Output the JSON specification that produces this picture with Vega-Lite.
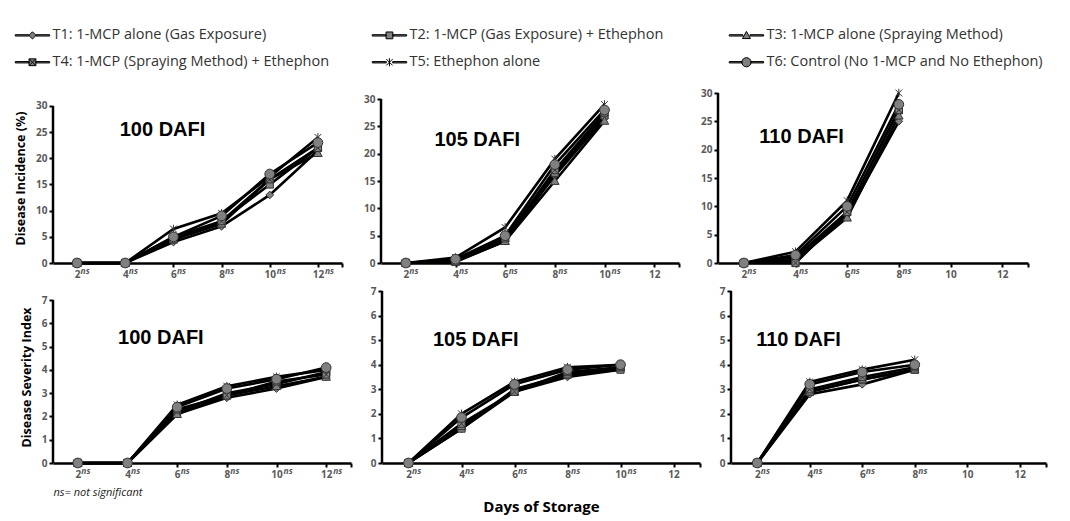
{
  "$schema": "https://vega.github.io/schema/vega-lite/v6.json",
  "padding": {"left": 14, "top": 28, "right": 5, "bottom": 5},
  "background": "white",
  "datasets": {
    "d": [
      {"m": "DI", "p": 100, "d": 2, "T1": 0, "T2": 0, "T3": 0, "T4": 0, "T5": 0, "T6": 0},
      {"m": "DI", "p": 100, "d": 4, "T1": 0, "T2": 0, "T3": 0, "T4": 0, "T5": 0, "T6": 0},
      {"m": "DI", "p": 100, "d": 6, "T1": 4, "T2": 4.5, "T3": 4.5, "T4": 5, "T5": 6.5, "T6": 5},
      {"m": "DI", "p": 100, "d": 8, "T1": 7, "T2": 8, "T3": 7.5, "T4": 8, "T5": 9.5, "T6": 9},
      {"m": "DI", "p": 100, "d": 10, "T1": 13, "T2": 15, "T3": 16, "T4": 16, "T5": 16.5, "T6": 17},
      {"m": "DI", "p": 100, "d": 12, "T1": 21.5, "T2": 22, "T3": 21, "T4": 22, "T5": 24, "T6": 23},
      {"m": "DI", "p": 105, "d": 2, "T1": 0, "T2": 0, "T3": 0, "T4": 0, "T5": 0, "T6": 0},
      {"m": "DI", "p": 105, "d": 4, "T1": 0.3, "T2": 0.5, "T3": 0.2, "T4": 0.3, "T5": 1, "T6": 0.7},
      {"m": "DI", "p": 105, "d": 6, "T1": 4, "T2": 4.5, "T3": 4, "T4": 4.5, "T5": 6.5, "T6": 5},
      {"m": "DI", "p": 105, "d": 8, "T1": 16, "T2": 16.5, "T3": 15, "T4": 17, "T5": 19, "T6": 18},
      {"m": "DI", "p": 105, "d": 10, "T1": 26.5, "T2": 27, "T3": 26, "T4": 27.5, "T5": 29, "T6": 28},
      {"m": "DI", "p": 110, "d": 2, "T1": 0, "T2": 0, "T3": 0, "T4": 0, "T5": 0, "T6": 0},
      {"m": "DI", "p": 110, "d": 4, "T1": 0.5, "T2": 1, "T3": 0.5, "T4": 0, "T5": 2, "T6": 1.4},
      {"m": "DI", "p": 110, "d": 6, "T1": 8.5, "T2": 9, "T3": 8, "T4": 9, "T5": 11, "T6": 10},
      {"m": "DI", "p": 110, "d": 8, "T1": 25, "T2": 27, "T3": 26, "T4": 27, "T5": 30, "T6": 28},
      {"m": "DSI", "p": 100, "d": 2, "T1": 0, "T2": 0, "T3": 0, "T4": 0, "T5": 0, "T6": 0},
      {"m": "DSI", "p": 100, "d": 4, "T1": 0, "T2": 0, "T3": 0, "T4": 0, "T5": 0, "T6": 0},
      {"m": "DSI", "p": 100, "d": 6, "T1": 2.1, "T2": 2.2, "T3": 2.1, "T4": 2.3, "T5": 2.5, "T6": 2.4},
      {"m": "DSI", "p": 100, "d": 8, "T1": 2.8, "T2": 3.0, "T3": 2.9, "T4": 2.9, "T5": 3.3, "T6": 3.2},
      {"m": "DSI", "p": 100, "d": 10, "T1": 3.2, "T2": 3.4, "T3": 3.3, "T4": 3.5, "T5": 3.7, "T6": 3.6},
      {"m": "DSI", "p": 100, "d": 12, "T1": 3.7, "T2": 3.9, "T3": 3.7, "T4": 3.8, "T5": 4.0, "T6": 4.1},
      {"m": "DSI", "p": 105, "d": 2, "T1": 0, "T2": 0, "T3": 0, "T4": 0, "T5": 0, "T6": 0},
      {"m": "DSI", "p": 105, "d": 4, "T1": 1.4, "T2": 1.4, "T3": 1.5, "T4": 1.6, "T5": 2.0, "T6": 1.85},
      {"m": "DSI", "p": 105, "d": 6, "T1": 2.9, "T2": 3.0, "T3": 2.9, "T4": 2.9, "T5": 3.3, "T6": 3.2},
      {"m": "DSI", "p": 105, "d": 8, "T1": 3.5, "T2": 3.6, "T3": 3.6, "T4": 3.7, "T5": 3.9, "T6": 3.8},
      {"m": "DSI", "p": 105, "d": 10, "T1": 3.8, "T2": 3.8, "T3": 3.9, "T4": 3.9, "T5": 4.0, "T6": 4.0},
      {"m": "DSI", "p": 110, "d": 2, "T1": 0, "T2": 0, "T3": 0, "T4": 0, "T5": 0, "T6": 0},
      {"m": "DSI", "p": 110, "d": 4, "T1": 2.8, "T2": 2.9, "T3": 2.9, "T4": 3.0, "T5": 3.3, "T6": 3.2},
      {"m": "DSI", "p": 110, "d": 6, "T1": 3.2, "T2": 3.4, "T3": 3.4, "T4": 3.5, "T5": 3.8, "T6": 3.7},
      {"m": "DSI", "p": 110, "d": 8, "T1": 3.8, "T2": 3.8, "T3": 3.8, "T4": 3.9, "T5": 4.2, "T6": 4.0}
    ]
  },
  "config": {
    "view": {"stroke": null},
    "font": "Open Sans",
    "axis": {
      "domainColor": "black", "domainWidth": 2.5, "tickColor": "black", "tickWidth": 2, "tickSize": 4,
      "labelColor": "#595959", "labelFont": "Open Sans", "labelFontSize": 10, "labelFontWeight": "bold",
      "grid": false, "labelPadding": 2, "titleColor": "black", "titleFont": "Open Sans", "titleFontWeight": "bold", "titleFontSize": 12.5
    },
    "axisY": {"domain": false},
    "point": {"filled": true, "fill": "#808080", "stroke": "#333333", "strokeWidth": 1, "opacity": 1, "size": 72},
    "line": {"color": "black", "strokeWidth": 2.6},
    "rule": {"color": "black", "strokeWidth": 2.5},
    "text": {"color": "#595959"},
    "legend": {
      "orient": "none", "legendX": -27.8, "legendY": -65, "columns": 3, "direction": "vertical", "gridAlign": "all",
      "columnPadding": 41, "rowPadding": 12, "symbolSize": 64, "labelFont": "Open Sans", "labelFontSize": 14.5,
      "labelColor": "#333333", "labelOffset": 12.8, "labelLimit": 500, "padding": 0, "title": null
    }
  },
  "spacing": 7,
  "vconcat": [
    {
      "spacing": 20,
      "hconcat": [
        {
          "width": 289, "height": 170,
          "layer": [
            {
              "data": {"name": "d"},
              "transform": [{"filter": "datum.m=='DI' && datum.p==100"}, {"fold": ["T1", "T2", "T3", "T4", "T5", "T6"], "as": ["t", "v"]}],
              "encoding": {
                "x": {"field": "d", "type": "quantitative", "scale": {"domain": [1, 13], "nice": false, "zero": false}, "axis": {"values": [2, 4, 6, 8, 10, 12, 13], "labelExpr": "datum.value==13?'':datum.label", "title": null}},
                "y": {"field": "v", "type": "quantitative", "scale": {"domain": [0, 32.48], "nice": false}, "axis": {"values": [0, 5, 10, 15, 20, 25, 30], "title": "Disease Incidence (%)", "titlePadding": 8}}
              },
              "layer": [
                {"mark": "line", "encoding": {"detail": {"field": "t"}}},
                {"transform": [{"filter": "datum.t=='T1'"}], "mark": {"type": "point", "shape": "M0,-0.9L0.9,0L0,0.9L-0.9,0Z"}},
                {"transform": [{"filter": "datum.t=='T2'"}], "mark": {"type": "point", "shape": "M-0.85,-0.85H0.85V0.85H-0.85Z"}},
                {"transform": [{"filter": "datum.t=='T3'"}], "mark": {"type": "point", "shape": "M0,-1L1,0.8H-1Z"}},
                {"transform": [{"filter": "datum.t=='T4'"}], "mark": {"type": "point", "shape": "M-0.85,-0.85H0.85V0.85H-0.85ZM-0.85,-0.85L0.85,0.85M0.85,-0.85L-0.85,0.85"}},
                {"transform": [{"filter": "datum.t=='T5'"}], "mark": {"type": "point", "shape": "M-0.8,-0.8L0.8,0.8M0.8,-0.8L-0.8,0.8M0,-1V1"}},
                {"transform": [{"filter": "datum.t=='T6'"}], "mark": {"type": "point", "shape": "M-1.15,0A1.15,1.15 0 1,1 1.15,0A1.15,1.15 0 1,1 -1.15,0Z"}},
                {"transform": [{"filter": "datum.t=='T1' && datum.d<10"}],
                 "mark": {"type": "text", "text": "ns", "align": "left", "baseline": "alphabetic", "dx": 3.5, "dy": 11, "fontSize": 8.5, "fontStyle": "italic", "fontWeight": "bold"},
                 "encoding": {"y": {"datum": 0, "type": "quantitative", "axis": {"values": [0, 5, 10, 15, 20, 25, 30], "title": "Disease Incidence (%)", "titlePadding": 8}}}},
                {"transform": [{"filter": "datum.t=='T1' && datum.d>=10"}],
                 "mark": {"type": "text", "text": "ns", "align": "left", "baseline": "alphabetic", "dx": 7, "dy": 11, "fontSize": 8.5, "fontStyle": "italic", "fontWeight": "bold"},
                 "encoding": {"y": {"datum": 0, "type": "quantitative", "axis": {"values": [0, 5, 10, 15, 20, 25, 30], "title": "Disease Incidence (%)", "titlePadding": 8}}}}
              ]
            },
            {
              "data": {"values": [{}]},
              "layer": [
                {"mark": "rule", "encoding": {
                  "x": {"datum": 1, "type": "quantitative", "axis": {"values": [2, 4, 6, 8, 10, 12, 13], "labelExpr": "datum.value==13?'':datum.label", "title": null}},
                  "y": {"datum": 0, "type": "quantitative", "axis": {"values": [0, 5, 10, 15, 20, 25, 30], "title": "Disease Incidence (%)", "titlePadding": 8}},
                  "y2": {"datum": 30}}},
                {"mark": {"type": "text", "text": "100 DAFI", "align": "left", "baseline": "middle", "font": "Liberation Sans", "fontSize": 20, "fontWeight": "bold", "color": "black"},
                 "encoding": {
                  "x": {"datum": 3.77, "type": "quantitative", "axis": {"values": [2, 4, 6, 8, 10, 12, 13], "labelExpr": "datum.value==13?'':datum.label", "title": null}},
                  "y": {"datum": 25.4, "type": "quantitative", "axis": {"values": [0, 5, 10, 15, 20, 25, 30], "title": "Disease Incidence (%)", "titlePadding": 8}}}}
              ]
            },
            {
              "data": {"values": []},
              "mark": {"type": "point", "filled": true, "fill": "#808080", "stroke": "black", "strokeWidth": 1.2, "opacity": 1},
              "encoding": {
                "shape": {"field": "t", "type": "nominal",
                  "scale": {"domain": ["T1", "T4", "T2", "T5", "T3", "T6"],
                    "range": [
                      "M-4.3,-0.17H-0.9V0.17H-4.3ZM0.9,-0.17H4.3V0.17H0.9ZM0,-0.9L0.9,0L0,0.9L-0.9,0Z",
                      "M-4.3,-0.17H-0.85V0.17H-4.3ZM0.85,-0.17H4.3V0.17H0.85ZM-0.85,-0.85H0.85V0.85H-0.85ZM-0.85,-0.85L0.85,0.85M0.85,-0.85L-0.85,0.85",
                      "M-4.3,-0.17H-0.85V0.17H-4.3ZM0.85,-0.17H4.3V0.17H0.85ZM-0.85,-0.85H0.85V0.85H-0.85Z",
                      "M-4.3,-0.17H-0.8V0.17H-4.3ZM0.8,-0.17H4.3V0.17H0.8ZM-0.8,-0.8L0.8,0.8M0.8,-0.8L-0.8,0.8M0,-1V1",
                      "M-4.3,-0.17H-0.9V0.17H-4.3ZM0.9,-0.17H4.3V0.17H0.9ZM0,-1L1,0.8H-1Z",
                      "M-4.3,-0.17H-1.1V0.17H-4.3ZM1.1,-0.17H4.3V0.17H1.1ZM-1.15,0A1.15,1.15 0 1,1 1.15,0A1.15,1.15 0 1,1 -1.15,0Z"
                    ]},
                  "legend": {"labelExpr": "{'T1':'T1: 1-MCP alone (Gas Exposure)','T2':'T2: 1-MCP (Gas Exposure) + Ethephon','T3':'T3: 1-MCP alone (Spraying Method)','T4':'T4: 1-MCP (Spraying Method) + Ethephon','T5':'T5: Ethephon alone','T6':'T6: Control (No 1-MCP and No Ethephon)'}[datum.value]"}
                }}
            }
          ]
        },
        {
          "width": 298, "height": 170,
          "layer": [
            {
              "data": {"name": "d"},
              "transform": [{"filter": "datum.m=='DI' && datum.p==105"}, {"fold": ["T1", "T2", "T3", "T4", "T5", "T6"], "as": ["t", "v"]}],
              "encoding": {
                "x": {"field": "d", "type": "quantitative", "scale": {"domain": [1, 13], "nice": false, "zero": false}, "axis": {"values": [2, 4, 6, 8, 10, 12, 13], "labelExpr": "datum.value==13?'':datum.label", "title": null}},
                "y": {"field": "v", "type": "quantitative", "scale": {"domain": [0, 31.1], "nice": false}, "axis": {"values": [0, 5, 10, 15, 20, 25, 30], "title": null}}
              },
              "layer": [
                {"mark": "line", "encoding": {"detail": {"field": "t"}}},
                {"transform": [{"filter": "datum.t=='T1'"}], "mark": {"type": "point", "shape": "M0,-0.9L0.9,0L0,0.9L-0.9,0Z"}},
                {"transform": [{"filter": "datum.t=='T2'"}], "mark": {"type": "point", "shape": "M-0.85,-0.85H0.85V0.85H-0.85Z"}},
                {"transform": [{"filter": "datum.t=='T3'"}], "mark": {"type": "point", "shape": "M0,-1L1,0.8H-1Z"}},
                {"transform": [{"filter": "datum.t=='T4'"}], "mark": {"type": "point", "shape": "M-0.85,-0.85H0.85V0.85H-0.85ZM-0.85,-0.85L0.85,0.85M0.85,-0.85L-0.85,0.85"}},
                {"transform": [{"filter": "datum.t=='T5'"}], "mark": {"type": "point", "shape": "M-0.8,-0.8L0.8,0.8M0.8,-0.8L-0.8,0.8M0,-1V1"}},
                {"transform": [{"filter": "datum.t=='T6'"}], "mark": {"type": "point", "shape": "M-1.15,0A1.15,1.15 0 1,1 1.15,0A1.15,1.15 0 1,1 -1.15,0Z"}},
                {"transform": [{"filter": "datum.t=='T1' && datum.d<10"}],
                 "mark": {"type": "text", "text": "ns", "align": "left", "baseline": "alphabetic", "dx": 3.5, "dy": 11, "fontSize": 8.5, "fontStyle": "italic", "fontWeight": "bold"},
                 "encoding": {"y": {"datum": 0, "type": "quantitative", "axis": {"values": [0, 5, 10, 15, 20, 25, 30], "title": null}}}},
                {"transform": [{"filter": "datum.t=='T1' && datum.d>=10"}],
                 "mark": {"type": "text", "text": "ns", "align": "left", "baseline": "alphabetic", "dx": 7, "dy": 11, "fontSize": 8.5, "fontStyle": "italic", "fontWeight": "bold"},
                 "encoding": {"y": {"datum": 0, "type": "quantitative", "axis": {"values": [0, 5, 10, 15, 20, 25, 30], "title": null}}}}
              ]
            },
            {
              "data": {"values": [{}]},
              "layer": [
                {"mark": "rule", "encoding": {
                  "x": {"datum": 1, "type": "quantitative", "axis": {"values": [2, 4, 6, 8, 10, 12, 13], "labelExpr": "datum.value==13?'':datum.label", "title": null}},
                  "y": {"datum": 0, "type": "quantitative", "axis": {"values": [0, 5, 10, 15, 20, 25, 30], "title": null}},
                  "y2": {"datum": 30}}},
                {"mark": {"type": "text", "text": "105 DAFI", "align": "left", "baseline": "middle", "font": "Liberation Sans", "fontSize": 20, "fontWeight": "bold", "color": "black"},
                 "encoding": {
                  "x": {"datum": 3.15, "type": "quantitative", "axis": {"values": [2, 4, 6, 8, 10, 12, 13], "labelExpr": "datum.value==13?'':datum.label", "title": null}},
                  "y": {"datum": 22.5, "type": "quantitative", "axis": {"values": [0, 5, 10, 15, 20, 25, 30], "title": null}}}}
              ]
            }
          ]
        },
        {
          "width": 310, "height": 170,
          "layer": [
            {
              "data": {"name": "d"},
              "transform": [{"filter": "datum.m=='DI' && datum.p==110"}, {"fold": ["T1", "T2", "T3", "T4", "T5", "T6"], "as": ["t", "v"]}],
              "encoding": {
                "x": {"field": "d", "type": "quantitative", "scale": {"domain": [1, 13], "nice": false, "zero": false}, "axis": {"values": [2, 4, 6, 8, 10, 12, 13], "labelExpr": "datum.value==13?'':datum.label", "title": null}},
                "y": {"field": "v", "type": "quantitative", "scale": {"domain": [0, 30], "nice": false}, "axis": {"values": [0, 5, 10, 15, 20, 25, 30], "title": null}}
              },
              "layer": [
                {"mark": "line", "encoding": {"detail": {"field": "t"}}},
                {"transform": [{"filter": "datum.t=='T1'"}], "mark": {"type": "point", "shape": "M0,-0.9L0.9,0L0,0.9L-0.9,0Z"}},
                {"transform": [{"filter": "datum.t=='T2'"}], "mark": {"type": "point", "shape": "M-0.85,-0.85H0.85V0.85H-0.85Z"}},
                {"transform": [{"filter": "datum.t=='T3'"}], "mark": {"type": "point", "shape": "M0,-1L1,0.8H-1Z"}},
                {"transform": [{"filter": "datum.t=='T4'"}], "mark": {"type": "point", "shape": "M-0.85,-0.85H0.85V0.85H-0.85ZM-0.85,-0.85L0.85,0.85M0.85,-0.85L-0.85,0.85"}},
                {"transform": [{"filter": "datum.t=='T5'"}], "mark": {"type": "point", "shape": "M-0.8,-0.8L0.8,0.8M0.8,-0.8L-0.8,0.8M0,-1V1"}},
                {"transform": [{"filter": "datum.t=='T6'"}], "mark": {"type": "point", "shape": "M-1.15,0A1.15,1.15 0 1,1 1.15,0A1.15,1.15 0 1,1 -1.15,0Z"}},
                {"transform": [{"filter": "datum.t=='T1' && datum.d<10"}],
                 "mark": {"type": "text", "text": "ns", "align": "left", "baseline": "alphabetic", "dx": 3.5, "dy": 11, "fontSize": 8.5, "fontStyle": "italic", "fontWeight": "bold"},
                 "encoding": {"y": {"datum": 0, "type": "quantitative", "axis": {"values": [0, 5, 10, 15, 20, 25, 30], "title": null}}}}
              ]
            },
            {
              "data": {"values": [{}]},
              "layer": [
                {"mark": "rule", "encoding": {
                  "x": {"datum": 1, "type": "quantitative", "axis": {"values": [2, 4, 6, 8, 10, 12, 13], "labelExpr": "datum.value==13?'':datum.label", "title": null}},
                  "y": {"datum": 0, "type": "quantitative", "axis": {"values": [0, 5, 10, 15, 20, 25, 30], "title": null}},
                  "y2": {"datum": 30}}},
                {"mark": {"type": "text", "text": "110 DAFI", "align": "left", "baseline": "middle", "font": "Liberation Sans", "fontSize": 20, "fontWeight": "bold", "color": "black"},
                 "encoding": {
                  "x": {"datum": 2.6, "type": "quantitative", "axis": {"values": [2, 4, 6, 8, 10, 12, 13], "labelExpr": "datum.value==13?'':datum.label", "title": null}},
                  "y": {"datum": 22.2, "type": "quantitative", "axis": {"values": [0, 5, 10, 15, 20, 25, 30], "title": null}}}}
              ]
            }
          ]
        }
      ]
    },
    {
      "spacing": 18,
      "hconcat": [
        {
          "width": 298, "height": 172,
          "layer": [
            {
              "data": {"name": "d"},
              "transform": [{"filter": "datum.m=='DSI' && datum.p==100"}, {"fold": ["T1", "T2", "T3", "T4", "T5", "T6"], "as": ["t", "v"]}],
              "encoding": {
                "x": {"field": "d", "type": "quantitative", "scale": {"domain": [1, 13], "nice": false, "zero": false}, "axis": {"values": [2, 4, 6, 8, 10, 12, 13], "labelExpr": "datum.value==13?'':datum.label", "title": "ns= not significant", "titleAnchor": "start", "titleFontStyle": "italic", "titleFontWeight": "normal", "titleFontSize": 11, "titleColor": "#222222", "titlePadding": 7}},
                "y": {"field": "v", "type": "quantitative", "scale": {"domain": [0, 7.39], "nice": false}, "axis": {"values": [0, 1, 2, 3, 4, 5, 6, 7], "title": "Disease Severity Index", "titlePadding": 8}}
              },
              "layer": [
                {"mark": "line", "encoding": {"detail": {"field": "t"}}},
                {"transform": [{"filter": "datum.t=='T1'"}], "mark": {"type": "point", "shape": "M0,-0.9L0.9,0L0,0.9L-0.9,0Z"}},
                {"transform": [{"filter": "datum.t=='T2'"}], "mark": {"type": "point", "shape": "M-0.85,-0.85H0.85V0.85H-0.85Z"}},
                {"transform": [{"filter": "datum.t=='T3'"}], "mark": {"type": "point", "shape": "M0,-1L1,0.8H-1Z"}},
                {"transform": [{"filter": "datum.t=='T4'"}], "mark": {"type": "point", "shape": "M-0.85,-0.85H0.85V0.85H-0.85ZM-0.85,-0.85L0.85,0.85M0.85,-0.85L-0.85,0.85"}},
                {"transform": [{"filter": "datum.t=='T5'"}], "mark": {"type": "point", "shape": "M-0.8,-0.8L0.8,0.8M0.8,-0.8L-0.8,0.8M0,-1V1"}},
                {"transform": [{"filter": "datum.t=='T6'"}], "mark": {"type": "point", "shape": "M-1.15,0A1.15,1.15 0 1,1 1.15,0A1.15,1.15 0 1,1 -1.15,0Z"}},
                {"transform": [{"filter": "datum.t=='T1' && datum.d<10"}],
                 "mark": {"type": "text", "text": "ns", "align": "left", "baseline": "alphabetic", "dx": 3.5, "dy": 11, "fontSize": 8.5, "fontStyle": "italic", "fontWeight": "bold"},
                 "encoding": {"y": {"datum": 0, "type": "quantitative", "axis": {"values": [0, 1, 2, 3, 4, 5, 6, 7], "title": "Disease Severity Index", "titlePadding": 8}}}},
                {"transform": [{"filter": "datum.t=='T1' && datum.d>=10"}],
                 "mark": {"type": "text", "text": "ns", "align": "left", "baseline": "alphabetic", "dx": 7, "dy": 11, "fontSize": 8.5, "fontStyle": "italic", "fontWeight": "bold"},
                 "encoding": {"y": {"datum": 0, "type": "quantitative", "axis": {"values": [0, 1, 2, 3, 4, 5, 6, 7], "title": "Disease Severity Index", "titlePadding": 8}}}}
              ]
            },
            {
              "data": {"values": [{}]},
              "layer": [
                {"mark": "rule", "encoding": {
                  "x": {"datum": 1, "type": "quantitative", "axis": {"values": [2, 4, 6, 8, 10, 12, 13], "labelExpr": "datum.value==13?'':datum.label", "title": "ns= not significant", "titleAnchor": "start", "titleFontStyle": "italic", "titleFontWeight": "normal", "titleFontSize": 11, "titleColor": "#222222", "titlePadding": 7}},
                  "y": {"datum": 0, "type": "quantitative", "axis": {"values": [0, 1, 2, 3, 4, 5, 6, 7], "title": "Disease Severity Index", "titlePadding": 8}},
                  "y2": {"datum": 7}}},
                {"mark": {"type": "text", "text": "100 DAFI", "align": "left", "baseline": "middle", "font": "Liberation Sans", "fontSize": 20, "fontWeight": "bold", "color": "black"},
                 "encoding": {
                  "x": {"datum": 3.62, "type": "quantitative", "axis": {"values": [2, 4, 6, 8, 10, 12, 13], "labelExpr": "datum.value==13?'':datum.label", "title": "ns= not significant", "titleAnchor": "start", "titleFontStyle": "italic", "titleFontWeight": "normal", "titleFontSize": 11, "titleColor": "#222222", "titlePadding": 7}},
                  "y": {"datum": 5.38, "type": "quantitative", "axis": {"values": [0, 1, 2, 3, 4, 5, 6, 7], "title": "Disease Severity Index", "titlePadding": 8}}}}
              ]
            }
          ]
        },
        {
          "width": 318, "height": 172,
          "layer": [
            {
              "data": {"name": "d"},
              "transform": [{"filter": "datum.m=='DSI' && datum.p==105"}, {"fold": ["T1", "T2", "T3", "T4", "T5", "T6"], "as": ["t", "v"]}],
              "encoding": {
                "x": {"field": "d", "type": "quantitative", "scale": {"domain": [1, 13], "nice": false, "zero": false}, "axis": {"values": [2, 4, 6, 8, 10, 12, 13], "labelExpr": "datum.value==13?'':datum.label", "title": "Days of Storage", "titleFontSize": 15, "titlePadding": 20}},
                "y": {"field": "v", "type": "quantitative", "scale": {"domain": [0, 7], "nice": false}, "axis": {"values": [0, 1, 2, 3, 4, 5, 6, 7], "title": null}}
              },
              "layer": [
                {"mark": "line", "encoding": {"detail": {"field": "t"}}},
                {"transform": [{"filter": "datum.t=='T1'"}], "mark": {"type": "point", "shape": "M0,-0.9L0.9,0L0,0.9L-0.9,0Z"}},
                {"transform": [{"filter": "datum.t=='T2'"}], "mark": {"type": "point", "shape": "M-0.85,-0.85H0.85V0.85H-0.85Z"}},
                {"transform": [{"filter": "datum.t=='T3'"}], "mark": {"type": "point", "shape": "M0,-1L1,0.8H-1Z"}},
                {"transform": [{"filter": "datum.t=='T4'"}], "mark": {"type": "point", "shape": "M-0.85,-0.85H0.85V0.85H-0.85ZM-0.85,-0.85L0.85,0.85M0.85,-0.85L-0.85,0.85"}},
                {"transform": [{"filter": "datum.t=='T5'"}], "mark": {"type": "point", "shape": "M-0.8,-0.8L0.8,0.8M0.8,-0.8L-0.8,0.8M0,-1V1"}},
                {"transform": [{"filter": "datum.t=='T6'"}], "mark": {"type": "point", "shape": "M-1.15,0A1.15,1.15 0 1,1 1.15,0A1.15,1.15 0 1,1 -1.15,0Z"}},
                {"transform": [{"filter": "datum.t=='T1' && datum.d<10"}],
                 "mark": {"type": "text", "text": "ns", "align": "left", "baseline": "alphabetic", "dx": 3.5, "dy": 11, "fontSize": 8.5, "fontStyle": "italic", "fontWeight": "bold"},
                 "encoding": {"y": {"datum": 0, "type": "quantitative", "axis": {"values": [0, 1, 2, 3, 4, 5, 6, 7], "title": null}}}},
                {"transform": [{"filter": "datum.t=='T1' && datum.d>=10"}],
                 "mark": {"type": "text", "text": "ns", "align": "left", "baseline": "alphabetic", "dx": 7, "dy": 11, "fontSize": 8.5, "fontStyle": "italic", "fontWeight": "bold"},
                 "encoding": {"y": {"datum": 0, "type": "quantitative", "axis": {"values": [0, 1, 2, 3, 4, 5, 6, 7], "title": null}}}}
              ]
            },
            {
              "data": {"values": [{}]},
              "layer": [
                {"mark": "rule", "encoding": {
                  "x": {"datum": 1, "type": "quantitative", "axis": {"values": [2, 4, 6, 8, 10, 12, 13], "labelExpr": "datum.value==13?'':datum.label", "title": "Days of Storage", "titleFontSize": 15, "titlePadding": 20}},
                  "y": {"datum": 0, "type": "quantitative", "axis": {"values": [0, 1, 2, 3, 4, 5, 6, 7], "title": null}},
                  "y2": {"datum": 7}}},
                {"mark": {"type": "text", "text": "105 DAFI", "align": "left", "baseline": "middle", "font": "Liberation Sans", "fontSize": 20, "fontWeight": "bold", "color": "black"},
                 "encoding": {
                  "x": {"datum": 2.92, "type": "quantitative", "axis": {"values": [2, 4, 6, 8, 10, 12, 13], "labelExpr": "datum.value==13?'':datum.label", "title": "Days of Storage", "titleFontSize": 15, "titlePadding": 20}},
                  "y": {"datum": 5.0, "type": "quantitative", "axis": {"values": [0, 1, 2, 3, 4, 5, 6, 7], "title": null}}}}
              ]
            }
          ]
        },
        {
          "width": 315, "height": 172,
          "layer": [
            {
              "data": {"name": "d"},
              "transform": [{"filter": "datum.m=='DSI' && datum.p==110"}, {"fold": ["T1", "T2", "T3", "T4", "T5", "T6"], "as": ["t", "v"]}],
              "encoding": {
                "x": {"field": "d", "type": "quantitative", "scale": {"domain": [1, 13], "nice": false, "zero": false}, "axis": {"values": [2, 4, 6, 8, 10, 12, 13], "labelExpr": "datum.value==13?'':datum.label", "title": null}},
                "y": {"field": "v", "type": "quantitative", "scale": {"domain": [0, 7], "nice": false}, "axis": {"values": [0, 1, 2, 3, 4, 5, 6, 7], "title": null}}
              },
              "layer": [
                {"mark": "line", "encoding": {"detail": {"field": "t"}}},
                {"transform": [{"filter": "datum.t=='T1'"}], "mark": {"type": "point", "shape": "M0,-0.9L0.9,0L0,0.9L-0.9,0Z"}},
                {"transform": [{"filter": "datum.t=='T2'"}], "mark": {"type": "point", "shape": "M-0.85,-0.85H0.85V0.85H-0.85Z"}},
                {"transform": [{"filter": "datum.t=='T3'"}], "mark": {"type": "point", "shape": "M0,-1L1,0.8H-1Z"}},
                {"transform": [{"filter": "datum.t=='T4'"}], "mark": {"type": "point", "shape": "M-0.85,-0.85H0.85V0.85H-0.85ZM-0.85,-0.85L0.85,0.85M0.85,-0.85L-0.85,0.85"}},
                {"transform": [{"filter": "datum.t=='T5'"}], "mark": {"type": "point", "shape": "M-0.8,-0.8L0.8,0.8M0.8,-0.8L-0.8,0.8M0,-1V1"}},
                {"transform": [{"filter": "datum.t=='T6'"}], "mark": {"type": "point", "shape": "M-1.15,0A1.15,1.15 0 1,1 1.15,0A1.15,1.15 0 1,1 -1.15,0Z"}},
                {"transform": [{"filter": "datum.t=='T1' && datum.d<10"}],
                 "mark": {"type": "text", "text": "ns", "align": "left", "baseline": "alphabetic", "dx": 3.5, "dy": 11, "fontSize": 8.5, "fontStyle": "italic", "fontWeight": "bold"},
                 "encoding": {"y": {"datum": 0, "type": "quantitative", "axis": {"values": [0, 1, 2, 3, 4, 5, 6, 7], "title": null}}}}
              ]
            },
            {
              "data": {"values": [{}]},
              "layer": [
                {"mark": "rule", "encoding": {
                  "x": {"datum": 1, "type": "quantitative", "axis": {"values": [2, 4, 6, 8, 10, 12, 13], "labelExpr": "datum.value==13?'':datum.label", "title": null}},
                  "y": {"datum": 0, "type": "quantitative", "axis": {"values": [0, 1, 2, 3, 4, 5, 6, 7], "title": null}},
                  "y2": {"datum": 7}}},
                {"mark": {"type": "text", "text": "110 DAFI", "align": "left", "baseline": "middle", "font": "Liberation Sans", "fontSize": 20, "fontWeight": "bold", "color": "black"},
                 "encoding": {
                  "x": {"datum": 1.96, "type": "quantitative", "axis": {"values": [2, 4, 6, 8, 10, 12, 13], "labelExpr": "datum.value==13?'':datum.label", "title": null}},
                  "y": {"datum": 5.0, "type": "quantitative", "axis": {"values": [0, 1, 2, 3, 4, 5, 6, 7], "title": null}}}}
              ]
            }
          ]
        }
      ]
    }
  ]
}
